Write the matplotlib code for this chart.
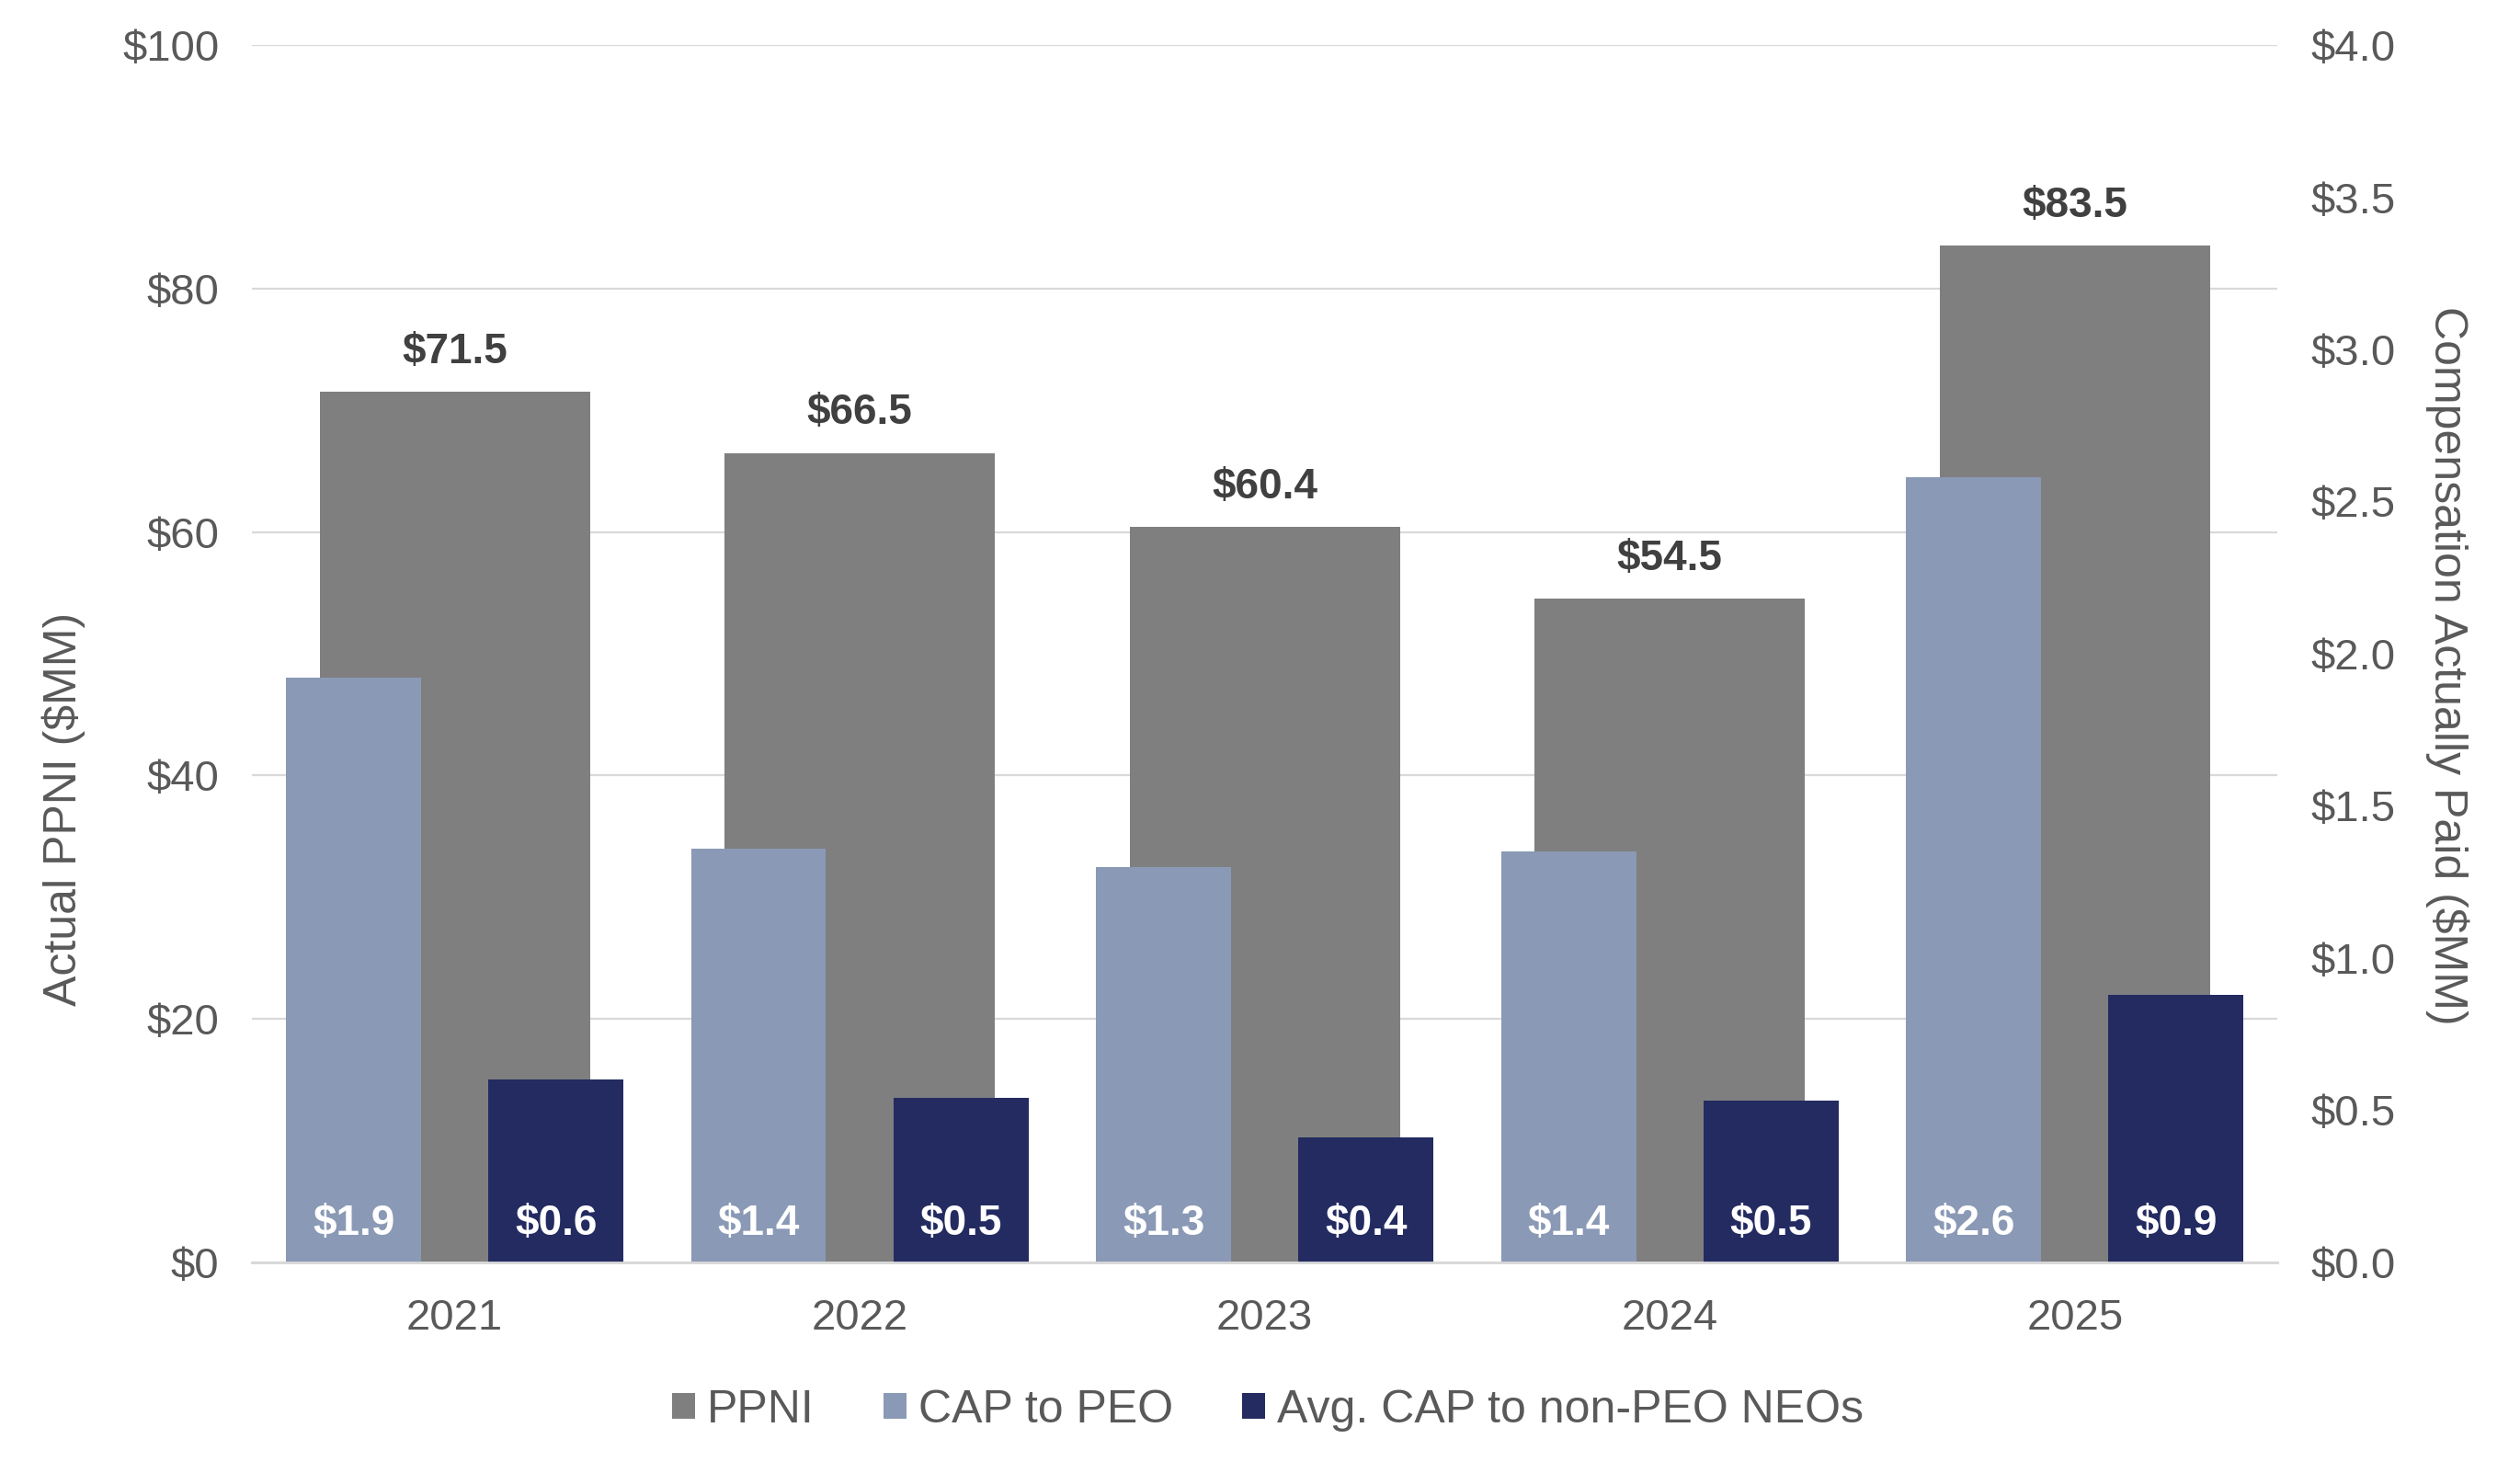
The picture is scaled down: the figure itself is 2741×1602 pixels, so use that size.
import matplotlib
matplotlib.use("Agg")
import matplotlib.pyplot as plt
import numpy as np

years = ["2021", "2022", "2023", "2024", "2025"]
ppni = [71.5, 66.5, 60.4, 54.5, 83.5]
cap_peo = [1.92, 1.36, 1.30, 1.35, 2.58]
cap_non_peo = [0.60, 0.54, 0.41, 0.53, 0.88]

c_ppni = "#7F7F7F"
c_peo = "#8A99B5"
c_non = "#232B61"
c_text = "#595959"
c_grid = "#D9D9D9"

plt.rcParams["font.family"] = ["Liberation Sans", "DejaVu Sans"]
plt.rcParams["font.size"] = 16.5

fig = plt.figure(figsize=(13.705, 8.01), dpi=200)
ax = fig.add_axes([0.1001, 0.143, 0.8036, 0.8264])
ax2 = ax.twinx()

x = np.arange(len(years))

b1 = ax.bar(x, ppni, width=0.667, color=c_ppni, label="PPNI", zorder=2)
b2 = ax2.bar(x - 0.25, cap_peo, width=1 / 3, color=c_peo, label="CAP to PEO", zorder=2)
b3 = ax2.bar(x + 0.25, cap_non_peo, width=1 / 3, color=c_non,
             label="Avg. CAP to non-PEO NEOs", zorder=2)

# labels
for xi, v in zip(x, ppni):
    ax.annotate(f"${v:.1f}", (xi, v), xytext=(0, 15.5), textcoords="offset points",
                ha="center", va="center", fontweight="bold", color="#404040")
for xi, v in zip(x, cap_peo):
    ax2.annotate(f"${v:.1f}", (xi - 0.25, 0), xytext=(0, 15), textcoords="offset points",
                 ha="center", va="center", fontweight="bold", color="white")
for xi, v in zip(x, cap_non_peo):
    ax2.annotate(f"${v:.1f}", (xi + 0.25, 0), xytext=(0, 15), textcoords="offset points",
                 ha="center", va="center", fontweight="bold", color="white")

ax.set_xlim(-0.5, 4.5)
ax.set_ylim(0, 100)
ax2.set_ylim(0, 4)
ax.set_yticks(np.arange(0, 101, 20))
ax.set_yticklabels([f"${t}" for t in range(0, 101, 20)])
ax2.set_yticks(np.arange(0, 4.01, 0.5))
ax2.set_yticklabels([f"${t:.1f}" for t in np.arange(0, 4.01, 0.5)])
ax.set_xticks(x)
ax.set_xticklabels(years)

ax.set_axisbelow(True)
ax.grid(axis="y", color=c_grid, linewidth=0.8)
for a in (ax, ax2):
    for s in ("top", "left", "right"):
        a.spines[s].set_visible(False)
    a.spines["bottom"].set_color(c_grid)
    a.spines["bottom"].set_linewidth(1.0)
    a.tick_params(length=0, colors=c_text, labelsize=17)
ax.tick_params(axis="y", pad=13)
ax2.tick_params(axis="y", pad=13)
ax.tick_params(axis="x", pad=14)

ax.set_ylabel("Actual PPNI ($MM)", color=c_text, fontsize=18)
ax.yaxis.set_label_coords(-0.0929, 0.372)
ax.yaxis.label.set_va("center")
ax2.set_ylabel("Compensation Actually Paid ($MM)", color=c_text, fontsize=18,
               rotation=270)
ax2.yaxis.set_label_coords(1.084, 0.49)
ax2.yaxis.label.set_va("center")

fig.legend(handles=[b1, b2, b3], loc="center", bbox_to_anchor=(0.503, 0.0426),
           ncol=3, frameon=False, handlelength=0.5, handleheight=0.5,
           handletextpad=0.26, columnspacing=1.5, labelcolor=c_text, fontsize=18)

fig.savefig("out.png", dpi=200)
